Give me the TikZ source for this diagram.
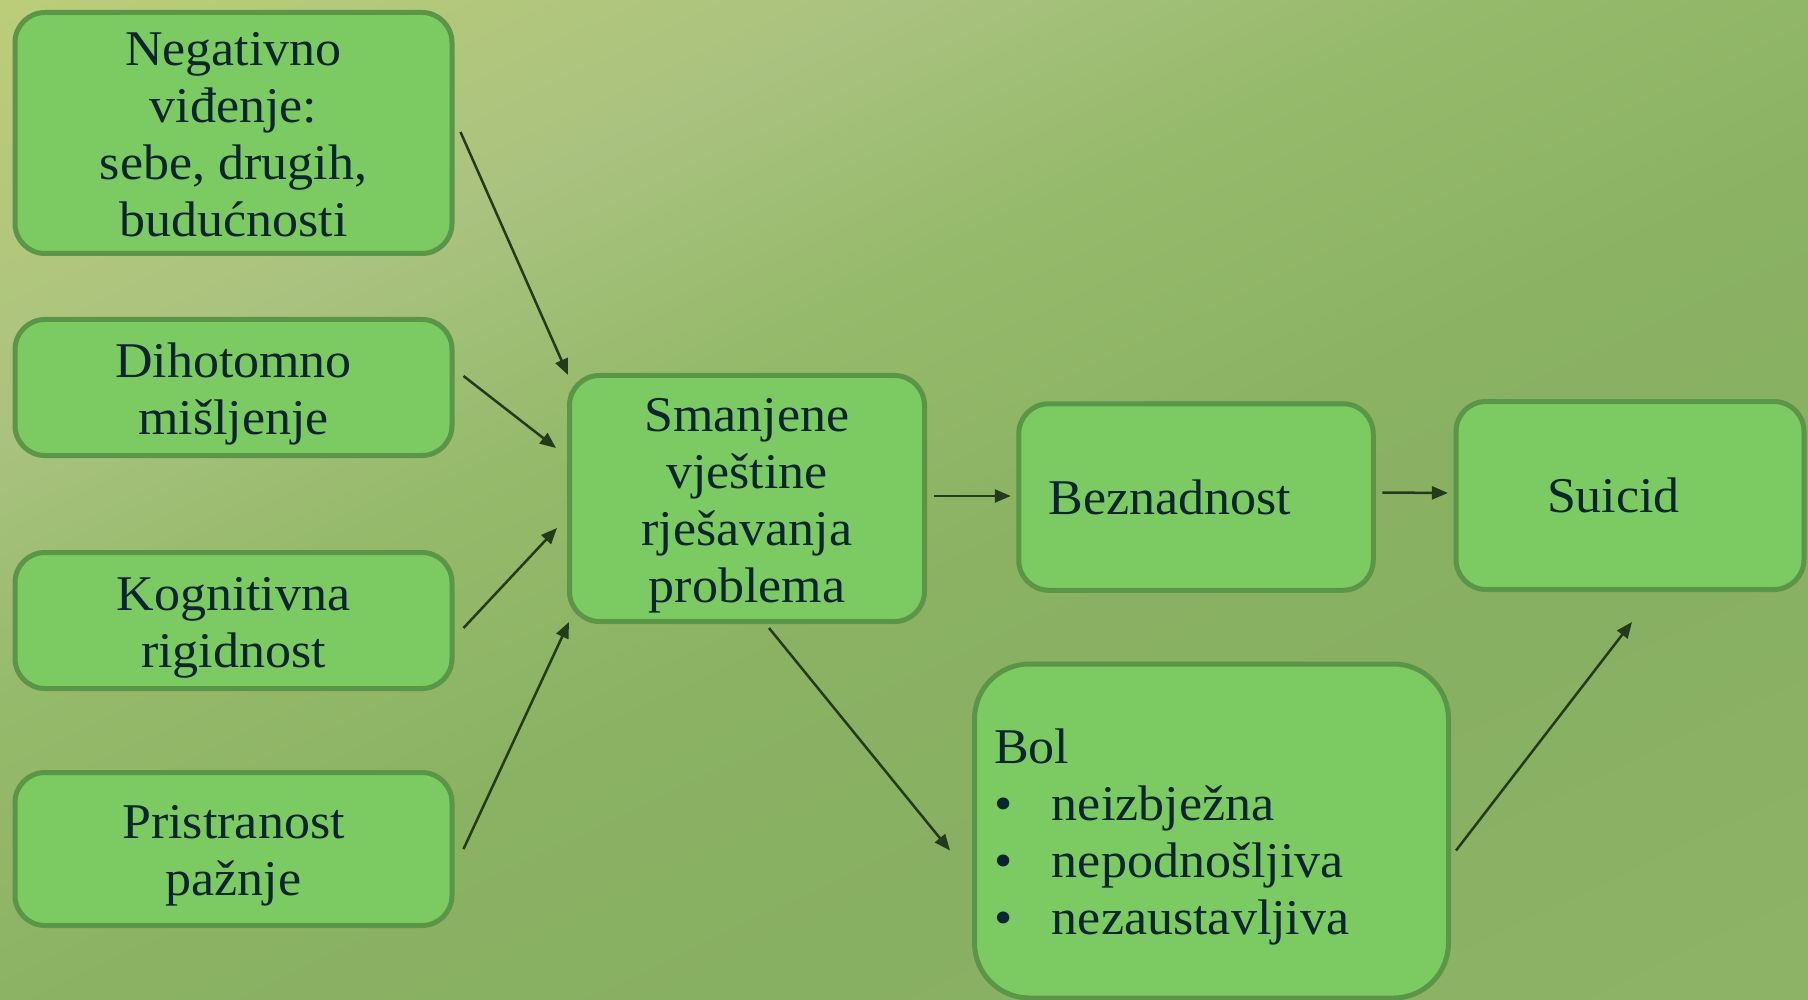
\documentclass[tikz,border=0pt]{standalone}
\usepackage{fontspec}
\setmainfont[FakeStretch=1.04]{Liberation Serif}
\usetikzlibrary{arrows.meta,calc}
\definecolor{boxfill}{HTML}{7CCB62}
\definecolor{boxline}{HTML}{5B9547}
\definecolor{txt}{HTML}{0C2530}
\definecolor{arr}{HTML}{243A1C}
\newcommand\myTop{\rule{0pt}{47pt}}
\newcommand\myBot{\rule[-11pt]{0pt}{11pt}}
\pgfdeclarehorizontalshading{bgshade}{100bp}{rgb(0bp)=(.76,.82,.46); rgb(28bp)=(.76,.82,.46); rgb(31bp)=(.737,.804,.471); rgb(40bp)=(.663,.761,.498); rgb(45.5bp)=(.584,.729,.416); rgb(52bp)=(.545,.698,.388); rgb(59bp)=(.533,.690,.384); rgb(68bp)=(.553,.702,.40); rgb(100bp)=(.553,.702,.40)}
\begin{document}
\begin{tikzpicture}[x=1pt,y=-1pt,
  box/.style={draw=boxline, fill=boxfill, line width=5pt, rounded corners=30pt,
    text=txt, font=\fontsize{50pt}{57pt}\selectfont, align=center, inner sep=0pt},
  conn/.style={draw=arr, line width=2.5pt, -{Triangle[length=16pt,width=13pt]}}]
\useasboundingbox (0,0) rectangle (1808,1000);
\clip (0,0) rectangle (1808,1000);
\begin{scope}[transform canvas={rotate around={-64.5:(904,500)}}]
  \shade[shading=bgshade] (-196,-600) rectangle (2004,1600);
\end{scope}

\node[box, minimum width=437pt, minimum height=241pt] (b1) at (233.5,133)
  {\myTop Negativno\\viđenje:\\sebe, drugih,\\budućnosti\myBot};
\node[box, minimum width=437pt, minimum height=136pt] (b2) at (233.5,387.5)
  {\myTop Dihotomno\\mišljenje\myBot};
\node[box, minimum width=437pt, minimum height=136pt] (b3) at (233.5,620.5)
  {\myTop Kognitivna\\rigidnost\myBot};
\node[box, minimum width=437pt, minimum height=153pt] (b4) at (233.5,849)
  {\myTop Pristranost\\pažnje\myBot};
\node[box, minimum width=355pt, minimum height=246pt] (c) at (747,498.5)
  {\myTop Smanjene\\vještine\\rješavanja\\problema\myBot};
\node[box, align=left, inner xsep=30pt, text width=294.5pt, minimum height=186.5pt] (bez) at (1196,497)
  {Beznadnost};
\node[box, align=left, inner xsep=91pt, text width=166pt, minimum height=188pt] (su) at (1630,495.5)
  {Suicid};
\node[box, rounded corners=55pt, align=left, inner xsep=19.5pt, text width=435pt, minimum height=334pt] (bol) at (1211.5,831)
  {\myTop Bol\\\makebox[58pt][l]{\textbullet}neizbježna\\\makebox[58pt][l]{\textbullet}nepodnošljiva\\\makebox[58pt][l]{\textbullet}nezaustavljiva\myBot};

\draw[conn] ($(b1.east)+(6,-1)$) -- ($(c.north west)+(1,2)$);
\draw[conn] ($(b2.east)+(9,-11.5)$) -- ($(c.west)+(-11,-50.5)$);
\draw[conn] ($(b3.east)+(9,7.5)$) -- ($(c.west)+(-10,29.5)$);
\draw[conn] ($(b4.east)+(9,0)$) -- ($(c.south west)+(2,-2)$);
\draw[conn] ($(c.east)+(7,-2.5)$) -- ($(bez.west)+(-5.5,-1)$);
\draw[conn] ($(bez.east)+(6.5,-4.5)$) -- ($(su.west)+(-5.6,-2.5)$);
\draw[conn] ($(c.south)+(22,4)$) -- ($(bol.west)+(-22,19.5)$);
\draw[conn] ($(bol.east)+(5,19.5)$) -- ($(su.south)+(2,30)$);
\end{tikzpicture}
\end{document}
